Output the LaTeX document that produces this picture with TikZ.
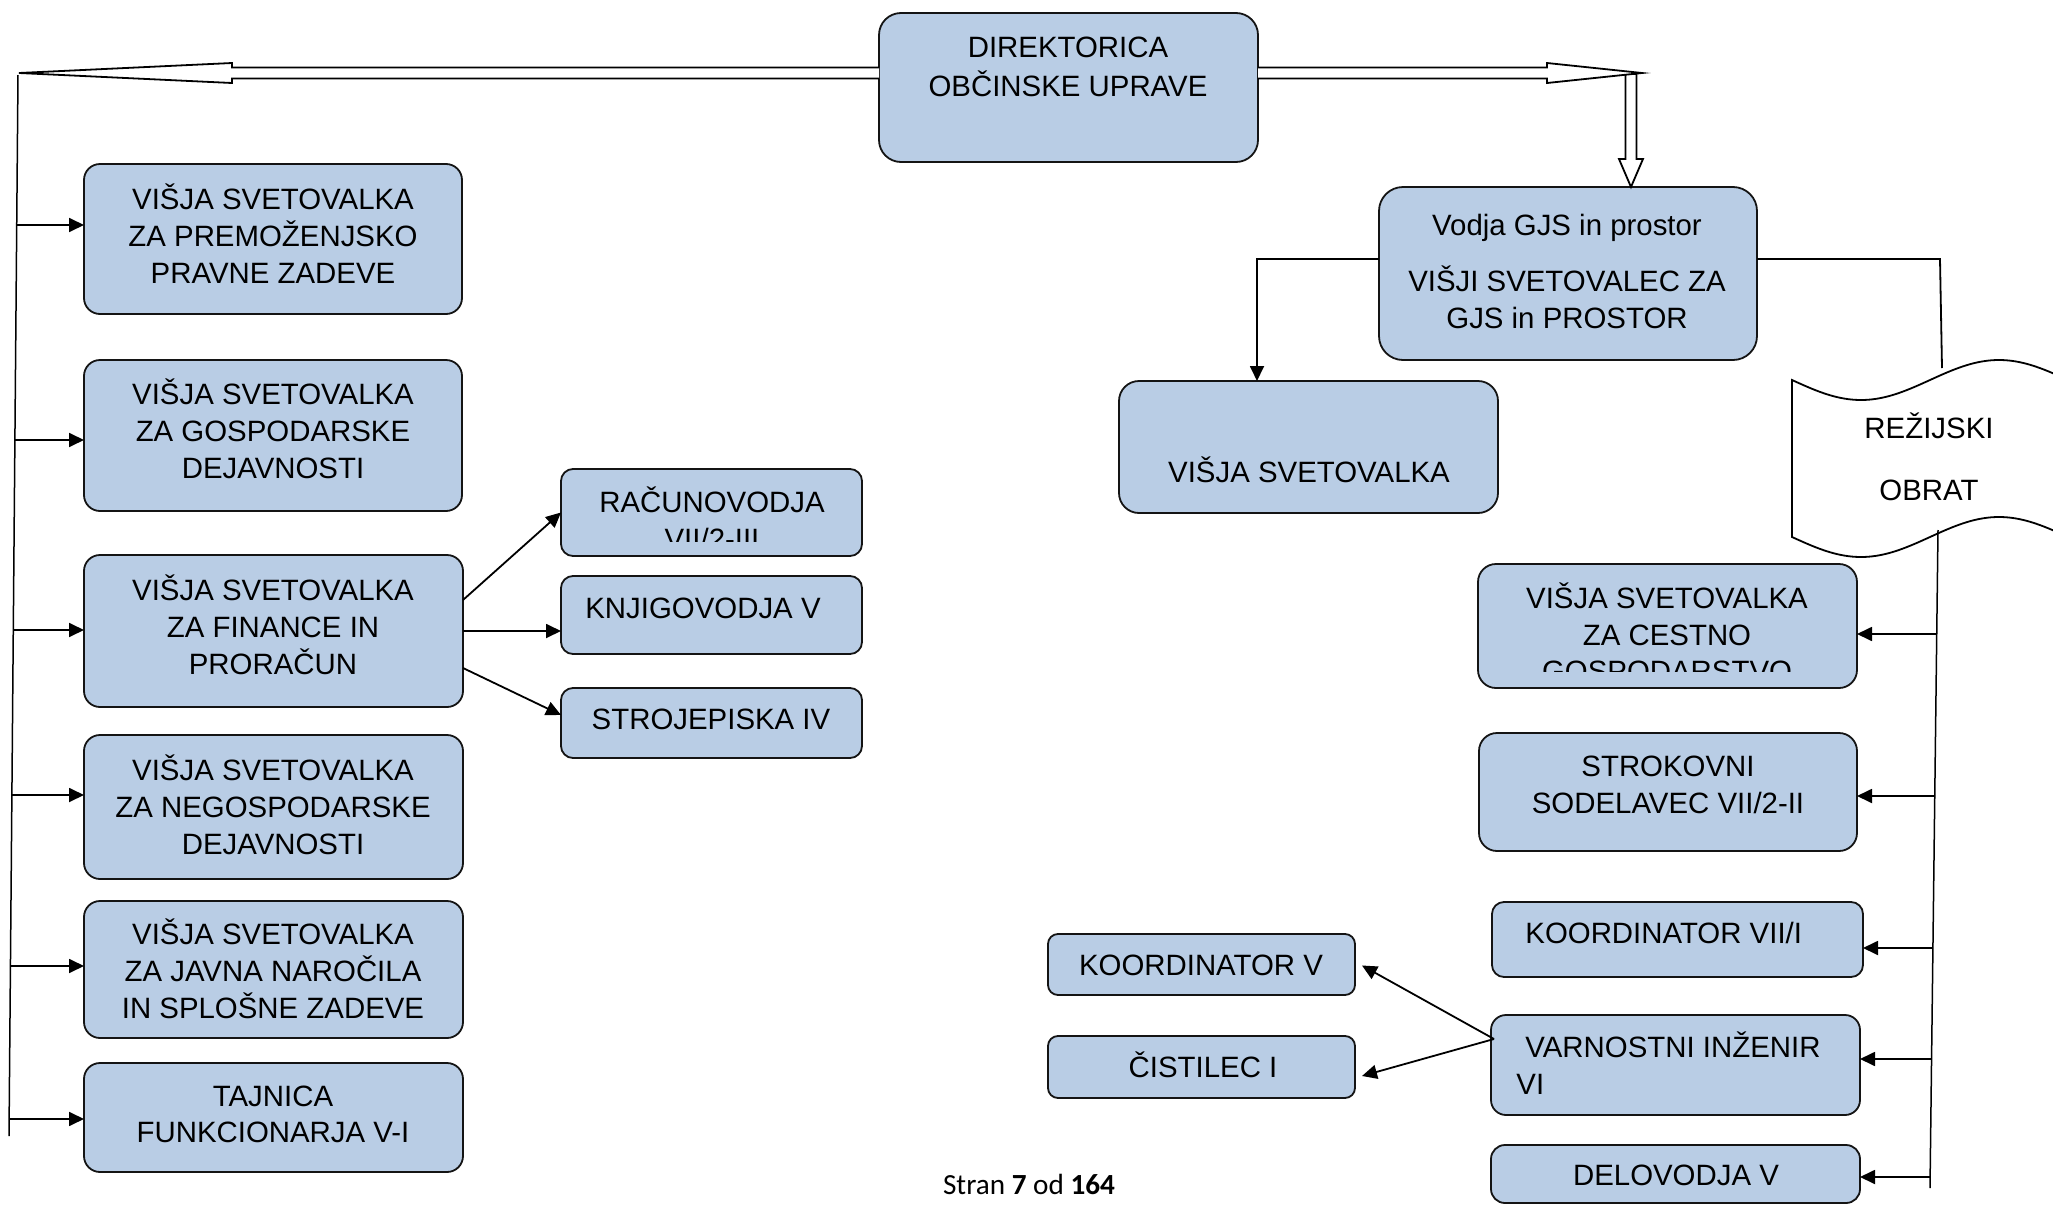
\documentclass[tikz,border=0pt]{standalone}
\usepackage{fontspec}
\setmainfont{Liberation Sans}
\newfontfamily\footfont{Carlito}
\usetikzlibrary{arrows.meta,calc}
\definecolor{boxblue}{RGB}{185,205,229}
\definecolor{edgecol}{RGB}{20,20,20}
\newcommand{\orgbox}[6][8pt]{\node[box=#1, minimum width={(#5-#3)*0.5pt}, minimum height={(#6-#4)*0.5pt}] (#2) at ({(#3+#5)/2},{(#4+#6)/2}) {};}
\begin{document}
\begin{tikzpicture}[x=0.5pt,y=-0.5pt,
  box/.style={draw=edgecol, fill=boxblue, line width=0.9pt, rounded corners=#1, inner sep=0pt, outer sep=0pt},
  % node is placed by the cap-centre of its LAST line
  txt/.style={font=\fontsize{14.7}{18.3}\selectfont, align=center, inner sep=0pt, text height=10.5pt, text depth=0pt},
  ln/.style={line width=0.9pt, draw=black},
  trunk/.style={line width=0.75pt, draw=black},
  arr/.style={ln, -{Triangle[length=7.5pt,width=7pt]}},
  hollow/.style={draw=black, fill=white, line width=0.9pt, line join=miter},
]
\useasboundingbox (0,0) rectangle (2053,1205);
\clip (0,0) rectangle (2053,1205);

% ---- boxes ----
\orgbox[8pt]{b1}{84}{164}{462}{314}
\orgbox[8pt]{b2}{84}{360}{462}{511}
\orgbox[8pt]{b3}{84}{555}{463}{707}
\orgbox[8pt]{b4}{84}{735}{463}{879}
\orgbox[8pt]{b5}{84}{901}{463}{1038}
\orgbox[8pt]{b6}{84}{1063}{463}{1172}
\orgbox[11pt]{dir}{879}{13}{1258}{162}
\orgbox[6pt]{rac}{561}{469}{862}{556}
\orgbox[6pt]{knj}{561}{576}{862}{654}
\orgbox[6pt]{stro}{561}{688}{862}{758}
\orgbox[12pt]{vodja}{1379}{187}{1757}{360}
\orgbox[10pt]{visja}{1119}{381}{1498}{513}
\orgbox[9pt]{cest}{1478}{564}{1857}{688}
\orgbox[9pt]{strok}{1479}{733}{1857}{851}
\orgbox[6pt]{koord}{1492}{902}{1863}{977}
\orgbox[7.5pt]{varn}{1491}{1015}{1860}{1115}
\orgbox[7pt]{delov}{1491}{1145}{1860}{1203}
\orgbox[5pt]{koordv}{1048}{934}{1355}{995}
\orgbox[5pt]{cist}{1048}{1036}{1355}{1098}

% ---- REZIJSKI OBRAT tape shape ----
\draw[line width=0.9pt, fill=white]
  plot[domain=1792:2068, samples=80, smooth] (\x,{380+20*sin(1.3043*(\x-1792))})
  -- (2068,537)
  -- plot[domain=2068:1792, samples=80, smooth] (\x,{537+20*sin(1.3043*(\x-1792))})
  -- cycle;

% ---- texts ----
\node[txt] (tb1) at (273,272.6) {VIŠJA SVETOVALKA\\ZA PREMOŽENJSKO\\PRAVNE ZADEVE};
\node[txt] (tb2) at (273,467.6) {VIŠJA SVETOVALKA\\ZA GOSPODARSKE\\DEJAVNOSTI};
\node[txt] (tb3) at (273,663.6) {VIŠJA SVETOVALKA\\ZA FINANCE IN\\PRORAČUN};
\node[txt] (tb4) at (273,843.6) {VIŠJA SVETOVALKA\\ZA NEGOSPODARSKE\\DEJAVNOSTI};
\node[txt] (tb5) at (273,1007.6) {VIŠJA SVETOVALKA\\ZA JAVNA NAROČILA\\IN SPLOŠNE ZADEVE};
\node[txt] (tb6) at (273,1132.3) {TAJNICA\\FUNKCIONARJA V-I};
\node[txt, font=\fontsize{14.7}{19.6}\selectfont] (tdir) at (1068,86) {DIREKTORICA\\OBČINSKE UPRAVE};
\begin{scope}
  \clip (561,469) rectangle (862,541);
  \node[txt] (trac) at (712,538.6) {RAČUNOVODJA\\VII/2-III};
\end{scope}
\node[txt] (tknj) at (703,608) {KNJIGOVODJA V};
\node[txt] (tstro) at (711,719) {STROJEPISKA IV};
\node[txt] (tvodja) at (1567,318) {Vodja GJS in prostor\\[10pt]VIŠJI SVETOVALEC ZA\\GJS in PROSTOR};
\node[txt] (tvisja) at (1309,472) {VIŠJA SVETOVALKA};
\node[txt, font=\fontsize{14.7}{31}\selectfont] (trez) at (1929,490) {REŽIJSKI\\OBRAT};
\begin{scope}
  \clip (1478,564) rectangle (1857,671);
  \node[txt] (tcest) at (1667,671.2) {VIŠJA SVETOVALKA\\ZA CESTNO\\GOSPODARSTVO};
\end{scope}
\node[txt] (tstrok) at (1668,803) {STROKOVNI\\SODELAVEC VII/2-II};
\node[txt, anchor=west] (tkoord) at (1525,933) {KOORDINATOR VII/I};
\node[txt, align=left, anchor=west] (tvarn) at (1516,1084) {\hspace*{4.5pt}VARNOSTNI INŽENIR\\VI};
\node[txt] (tdelov) at (1676,1175) {DELOVODJA V};
\node[txt] (tkoordv) at (1201,965) {KOORDINATOR V};
\node[txt] (tcist) at (1203,1067) {ČISTILEC I};
\node[font=\footfont\fontsize{14.6}{17}\selectfont, anchor=base, inner sep=0pt] (foot) at (1029,1194) {Stran \textbf{7} od \textbf{164}};

% ---- hollow arrows from DIREKTORICA ----
\coordinate (ltip) at (19,73);
\coordinate (rtip) at (1642,73);
\draw[hollow] ($(dir.west|-ltip)+(0,-5.5)$) -- ($(ltip)+(213,-5.5)$) -- ($(ltip)+(213,-10)$)
  -- (ltip) -- ($(ltip)+(213,10)$) -- ($(ltip)+(213,5.5)$) -- ($(dir.west|-ltip)+(0,5.5)$);
\coordinate (vtip) at ($(vodja.north-|rtip)+(-11,0)$);
\draw[hollow] ($(vtip)+(-5.5,-113)$) -- ($(vtip)+(-5.5,-28)$) -- ($(vtip)+(-12,-28)$) -- (vtip)
  -- ($(vtip)+(12,-28)$) -- ($(vtip)+(5.5,-28)$) -- ($(vtip)+(5.5,-113)$) -- cycle;
\draw[hollow] ($(dir.east|-rtip)+(0,-5.5)$) -- ($(rtip)+(-95,-5.5)$) -- ($(rtip)+(-95,-10)$)
  -- (rtip) -- ($(rtip)+(-95,10)$) -- ($(rtip)+(-95,5.5)$) -- ($(dir.east|-rtip)+(0,5.5)$);

% ---- left trunk ----
\coordinate (ltop) at (18,75);
\coordinate (lbot) at (9,1136);
\draw[trunk] (ltop) -- (lbot);
\foreach \n/\yy in {b1/225, b2/440, b3/630, b4/795, b5/966, b6/1119} {
  \path ($(ltop)!{(\yy-75)/1061}!(lbot)$) coordinate (lp\n);
  \draw[arr] (lp\n) -- (lp\n -| \n.west);
}

% ---- finance subordinates ----
\draw[arr] ($(b3.east)+(0,-31)$) -- (rac.west);
\draw[arr] (b3.east) -- (b3.east -| knj.west);
\draw[arr] ($(b3.east)+(0,37)$) -- ($(stro.west)+(0,-8)$);

% ---- Vodja connectors ----
\draw[arr] ($(vodja.west)+(0,-14.5)$) -| ($(visja.north west)+(138,0)$);
\coordinate (rc) at (1940,259);
\coordinate (reztop) at (1942,368);
\draw[ln] ($(vodja.east)+(0,-14.5)$) -- (rc) -- (reztop);

% ---- right trunk ----
\coordinate (rtop) at (1938,530);
\coordinate (rbot) at (1930,1188);
\draw[trunk] (rtop) -- (rbot);
\foreach \n/\yy in {cest/634, strok/796, koord/948, varn/1059, delov/1177} {
  \path ($(rtop)!{(\yy-530)/658}!(rbot)$) coordinate (rp\n);
  \draw[arr] (rp\n) -- (rp\n -| \n.east);
}

% ---- varnostni inzenir subordinates ----
\coordinate (vs) at ($(varn.west)+(3,-26)$);
\draw[arr] (vs) -- ($(koordv.east)+(7,1)$);
\draw[arr] (vs) -- ($(cist.east)+(7,9)$);
\end{tikzpicture}
\end{document}
